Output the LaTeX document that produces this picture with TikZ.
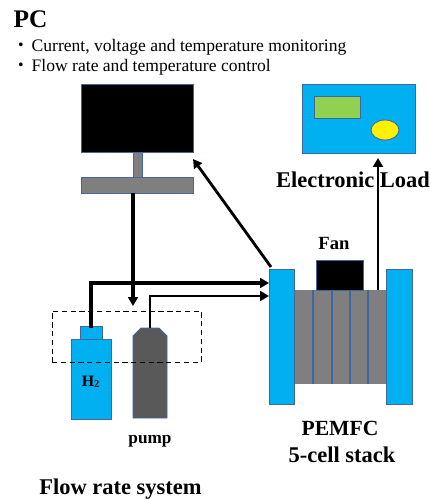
\documentclass[tikz,border=0pt]{standalone}
\usepackage{fontspec}
\setmainfont{Liberation Serif}
\newfontfamily\cjk{Noto Sans CJK JP}
\usepackage{xcolor}
\definecolor{plateblue}{HTML}{00B0F0}
\definecolor{edgeblue}{HTML}{41689C}
\definecolor{screengreen}{HTML}{92D050}
\definecolor{pumpgray}{HTML}{595959}
\definecolor{stackgray}{HTML}{7F7F7F}
\usetikzlibrary{arrows.meta, positioning, shapes.geometric}
\tikzset{
	part/.style={draw=edgeblue, line width=0.5pt, rectangle, inner sep=0pt},
	flow/.style={black, line width=1.5pt, -{Triangle[length=5pt, width=5.5pt]}},
	heading/.style={font=\bfseries\fontsize{12.8}{15}\selectfont, inner sep=0pt, anchor=base},
	tag/.style={font=\bfseries\fontsize{9.8}{12}\selectfont, inner sep=0pt, anchor=base},
	note/.style={font=\fontsize{10}{12}\selectfont, inner sep=0pt, anchor=base west},
}
\begin{document}
\begin{tikzpicture}[x=0.02cm, y=-0.02cm, thick]
	\useasboundingbox (0, 0) rectangle (430, 499);
	
	% PC
	\node[part, fill=black, minimum width=2.24cm, minimum height=1.36cm] (monitor) at (137, 118) {};
	\node[part, fill=stackgray, minimum width=0.18cm, minimum height=0.5cm] (neck) at (137.5, 164.5) {};
	\node[part, fill=stackgray, minimum width=2.24cm, minimum height=0.32cm] (keyboard) at (137, 185) {};
	
	% electronic load
	\node[part, fill=plateblue, minimum width=2.26cm, minimum height=1.38cm] (load) at (358.5, 118.5) {};
	\node[part, fill=screengreen, minimum width=0.92cm, minimum height=0.44cm] (display) at (337, 107) {};
	\node[part, ellipse, fill=yellow, minimum width=0.56cm, minimum height=0.4cm] (knob) at (385, 130) {};
	
	% stack
	\node[part, fill=stackgray, draw=none, minimum width=1.84cm, minimum height=1.88cm] (stack) at (340, 337) {};
	\foreach \x in {313, 332, 350, 368} {\draw[edgeblue, line width=0.7pt] (\x, 290) -- (\x, 384);}
	\node[part, fill=plateblue, minimum width=0.5cm, minimum height=2.7cm] (plateL) at (281.5, 336.5) {};
	\node[part, fill=plateblue, minimum width=0.52cm, minimum height=2.7cm] (plateR) at (399, 336.5) {};
	\node[part, fill=black, minimum width=0.94cm, minimum height=0.6cm] (fan) at (339.5, 275) {};
	
	% flow rate system
	\node[part, fill=plateblue, minimum width=0.8cm, minimum height=1.6cm] (bottle) at (91, 379) {};
	\node[part, fill=plateblue, minimum width=0.44cm, minimum height=0.26cm] (valve) at (91, 332.5) {};
	\draw[part, fill=pumpgray] (133, 336) -- (141, 328) -- (159, 328) -- (167, 336) -- (167, 418) -- (133, 418) -- cycle;
	\coordinate (pumpTop) at (150, 328);
	\node[draw=black, densely dashed, line width=0.5pt, rectangle, minimum width=2.98cm, minimum height=1.02cm] (flowbox) at (126.5, 336.5) {};
	
	% connectors
	\coordinate (inH) at (269, 283);
	\coordinate (inP) at (269, 296);
	\coordinate (monIn) at (193, 159);
	\coordinate (monOut) at (271, 267);
	\coordinate (loadOut) at (378, 290);
	\coordinate (loadIn) at (378, 158);
	\coordinate (pcOut) at (133, 193);
	\coordinate (pcIn) at (133, 306);
	\draw[flow, line width=1.75pt] (valve.north) ++(0, 2) |- (inH);
	\draw[flow] (pumpTop) |- (inP);
	\draw[flow, line width=1.75pt] (pcOut) -- (pcIn);
	\draw[flow, line width=1.6pt] (monOut) -- (monIn);
	\draw[flow] (loadOut) -- (loadIn);
	
	% labels
	\node[heading, font=\bfseries\fontsize{14.4}{17}\selectfont, anchor=base west] (pc) at (13, 28) {PC};
	\node[note] (noteA) at (31, 52) {Current, voltage and temperature monitoring};
	\node[note] (noteB) at (31, 72) {Flow rate and temperature control};
	\node[note, anchor=base east] (dotA) at (31, 52) {\cjk ・};
	\node[note, anchor=base east] (dotB) at (31, 72) {\cjk ・};
	\node[heading] (loadlabel) at (353, 188) {Electronic Load};
	\node[tag, font=\bfseries\fontsize{10.6}{12}\selectfont] (fanlabel) at (334, 250) {Fan};
	\node[tag, font=\bfseries\fontsize{9}{12}\selectfont] (gaslabel) at (91, 386) {H\textsubscript{2}};
	\node[tag] (pumplabel) at (150, 443) {pump};
	\node[heading, font=\bfseries\fontsize{12.3}{15}\selectfont] (stacklabelA) at (340, 435) {PEMFC};
	\node[heading] (stacklabelB) at (342, 462) {5-cell stack};
	\node[heading] (flowlabel) at (120.5, 494) {Flow rate system};
\end{tikzpicture}
\end{document}
